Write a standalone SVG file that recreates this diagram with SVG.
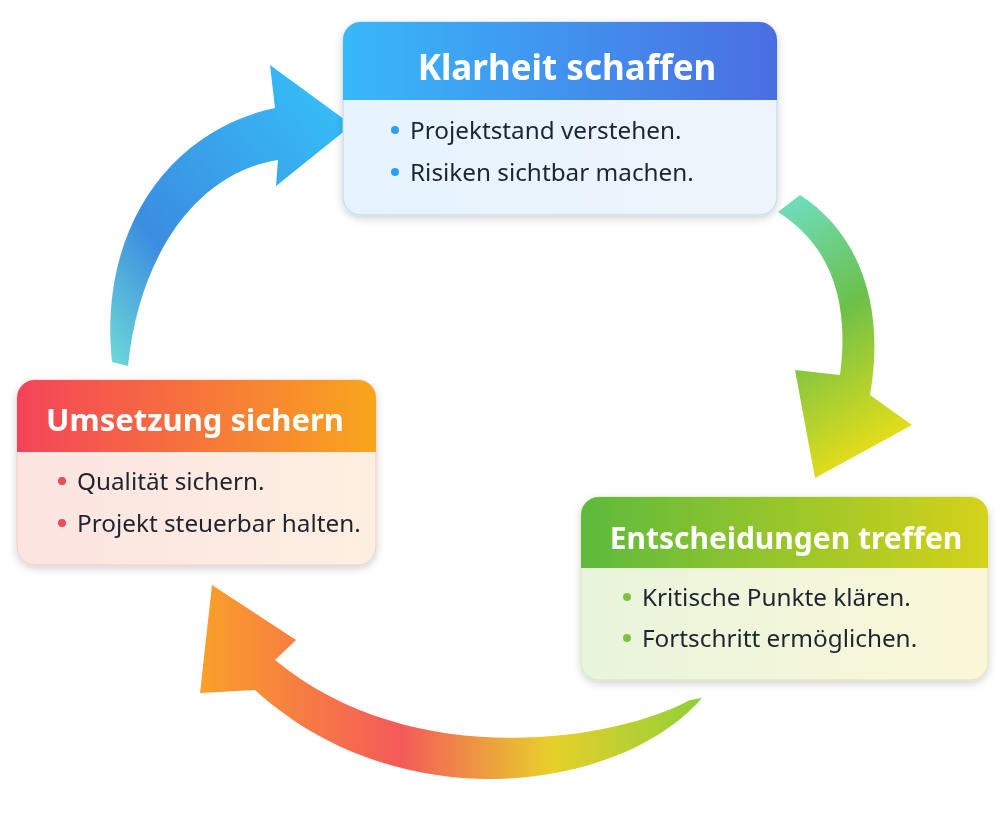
<svg xmlns="http://www.w3.org/2000/svg" width="1007" height="826" viewBox="0 0 1007 826">
<defs>
<linearGradient id="hb" x1="0" x2="1"><stop offset="0" stop-color="#38b8fa"/><stop offset="1" stop-color="#4a6ee2"/></linearGradient>
<linearGradient id="hg" x1="0" x2="1"><stop offset="0" stop-color="#5dba3c"/><stop offset="1" stop-color="#d4d21a"/></linearGradient>
<linearGradient id="hr" x1="0" x2="1"><stop offset="0" stop-color="#f4435a"/><stop offset="1" stop-color="#f9a61d"/></linearGradient>
<linearGradient id="bb" x1="0" x2="1"><stop offset="0" stop-color="#e6f3fd"/><stop offset="1" stop-color="#eef4fb"/></linearGradient>
<linearGradient id="bg" x1="0" x2="1"><stop offset="0" stop-color="#e8f5dc"/><stop offset="1" stop-color="#fbf6d8"/></linearGradient>
<linearGradient id="br" x1="0" x2="1"><stop offset="0" stop-color="#fde4e2"/><stop offset="1" stop-color="#fdefe0"/></linearGradient>
<linearGradient id="ab" x1="0" y1="1" x2="1" y2="0"><stop offset="0" stop-color="#6fdad6"/><stop offset="0.3" stop-color="#3b8de0"/><stop offset="1" stop-color="#35c4fb"/></linearGradient>
<linearGradient id="ag" x1="0" y1="0" x2="0.3" y2="1"><stop offset="0" stop-color="#6fe0c8"/><stop offset="0.5" stop-color="#6cc04a"/><stop offset="1" stop-color="#e0dc1c"/></linearGradient>
<linearGradient id="ar" x1="1" y1="0" x2="0" y2="0"><stop offset="0" stop-color="#8fd03a"/><stop offset="0.3" stop-color="#e8d02a"/><stop offset="0.6" stop-color="#f45a5a"/><stop offset="1" stop-color="#f9a02a"/></linearGradient>
<filter id="sh" x="-10%" y="-10%" width="120%" height="130%"><feDropShadow dx="0" dy="3" stdDeviation="4" flood-opacity="0.18"/></filter>
</defs>
<style>
.h{font-family:"Noto Sans","Open Sans",sans-serif;font-weight:700;fill:#fff}
.t{font-family:"Noto Sans","Open Sans",sans-serif;font-size:24.3px;fill:#1e2530}
</style>
<rect width="1007" height="826" fill="#fff"/>
<g id="connectors">
<path d="M112,362 C98,230 170,130 275,108 L270,65 L352,125 L276,186 L278,160 C200,172 140,250 128,366 Z" fill="url(#ab)"/>
<path d="M800,195 C862,235 885,310 870,395 L912,425 L815,478 L795,370 L840,375 C850,300 830,245 778,212 Z" fill="url(#ag)"/>
<path d="M702,698 C620,792 400,822 255,690 L200,693 L212,585 L296,640 L275,660 C410,772 612,742 690,700 Z" fill="url(#ar)"/>
</g>
<g id="n1" filter="url(#sh)">
<rect x="343" y="22" width="434" height="193" rx="18" fill="url(#bb)" stroke="#b9d7f3"/>
<path d="M361,22 H759 A18,18 0 0 1 777,40 V100 H343 V40 A18,18 0 0 1 361,22 Z" fill="url(#hb)"/>
<text class="h" x="567" y="80" font-size="35" text-anchor="middle">Klarheit schaffen</text>
<circle cx="395" cy="130" r="4" fill="#2aa0f0"/><text class="t" x="410" y="139">Projektstand verstehen.</text>
<circle cx="395" cy="172" r="4" fill="#2aa0f0"/><text class="t" x="410" y="181">Risiken sichtbar machen.</text>
</g>
<g id="n2" filter="url(#sh)">
<rect x="581" y="497" width="407" height="183" rx="18" fill="url(#bg)" stroke="#d8e6b8"/>
<path d="M599,497 H970 A18,18 0 0 1 988,515 V568 H581 V515 A18,18 0 0 1 599,497 Z" fill="url(#hg)"/>
<text class="h" x="786" y="549" font-size="30" text-anchor="middle">Entscheidungen treffen</text>
<circle cx="627" cy="597" r="4" fill="#7cc440"/><text class="t" x="642" y="606">Kritische Punkte klären.</text>
<circle cx="627" cy="638" r="4" fill="#7cc440"/><text class="t" x="642" y="647">Fortschritt ermöglichen.</text>
</g>
<g id="n3" filter="url(#sh)">
<rect x="17" y="380" width="359" height="185" rx="18" fill="url(#br)" stroke="#f3c8c4"/>
<path d="M35,380 H358 A18,18 0 0 1 376,398 V452 H17 V398 A18,18 0 0 1 35,380 Z" fill="url(#hr)"/>
<text class="h" x="195" y="431" font-size="31" text-anchor="middle">Umsetzung sichern</text>
<circle cx="62" cy="481" r="4" fill="#f04858"/><text class="t" x="77" y="490">Qualität sichern.</text>
<circle cx="62" cy="523" r="4" fill="#f04858"/><text class="t" x="77" y="532">Projekt steuerbar halten.</text>
</g>
</svg>
